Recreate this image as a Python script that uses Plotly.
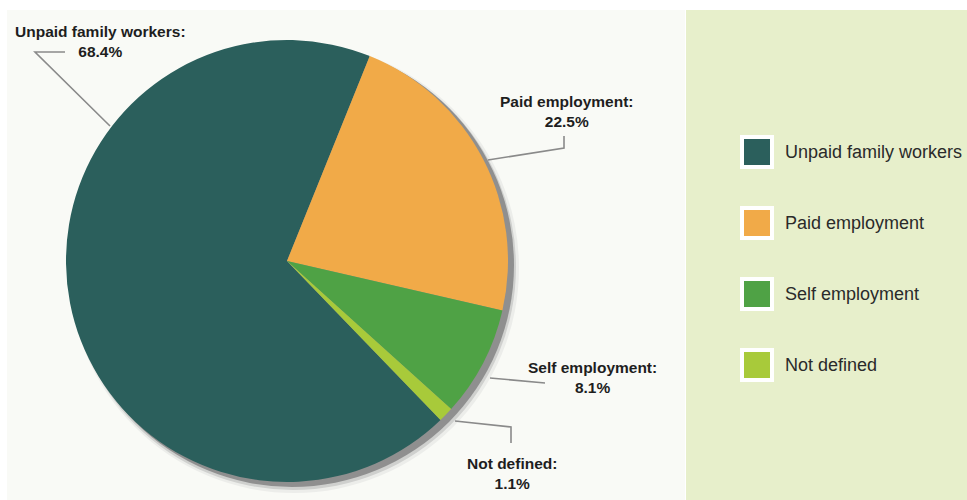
import plotly.graph_objects as go

# ---- data ----
categories = ["Unpaid family workers", "Paid employment", "Self employment", "Not defined"]
shares = [68.4, 22.5, 8.1, 1.1]
colors = ["#2b5f5c", "#f1aa48", "#4fa245", "#a8ca3a"]
value_labels = ["68.4%", "22.5%", "8.1%", "1.1%"]

W, H = 967, 500

def px(x, y):
    return x / W, 1 - y / H

# pie geometry (pixels)
cx, cy, r = 287, 261, 221

fig = go.Figure()

fig.add_trace(go.Pie(
    labels=categories, values=shares, sort=False, direction="clockwise",
    rotation=136, textinfo="none", hoverinfo="label+percent",
    marker=dict(colors=colors, line=dict(width=0)),
    domain=dict(x=[(cx - r) / W, (cx + r) / W], y=[1 - (cy + r) / H, 1 - (cy - r) / H]),
    showlegend=False,
))

# legend drawn as a scatter trace in a pixel-mapped axis
leg_x0, leg_y0, leg_dy = 757, 152, 71
fig.add_trace(go.Scatter(
    x=[0] * len(categories), y=list(range(len(categories))),
    mode="markers", xaxis="x2", yaxis="y2", hoverinfo="skip",
    marker=dict(symbol="square", size=30, color=colors, line=dict(color="white", width=4)),
    showlegend=False,
))

shapes = []
# backgrounds
x0, y0 = px(7, 10); x1, y1 = px(685, 500)
shapes.append(dict(type="rect", xref="paper", yref="paper", x0=x0, y0=y1, x1=x1, y1=y0,
                   fillcolor="#f9faf6", line=dict(width=0), layer="below"))
x0, y0 = px(686, 10); x1, y1 = px(967, 500)
shapes.append(dict(type="rect", xref="paper", yref="paper", x0=x0, y0=y1, x1=x1, y1=y0,
                   fillcolor="#e7efcb", line=dict(width=0), layer="below"))

# pie drop shadow
for (ox, oy, dr, col) in [(7, 7, 4, "#ecedea"), (6, 6, 2, "#cfd0ce"), (5, 4, 1, "#8f8f8f")]:
    a0, b0 = px(cx - r - dr + ox, cy - r - dr + oy)
    a1, b1 = px(cx + r + dr + ox, cy + r + dr + oy)
    shapes.append(dict(type="circle", xref="paper", yref="paper", x0=a0, y0=b1, x1=a1, y1=b0,
                       fillcolor=col, line=dict(width=0), layer="below"))

# leader lines
leaders = [
    [(65, 52), (35, 52), (110, 126)],
    [(564, 136), (564, 148), (488, 160)],
    [(545, 383), (490, 378)],
    [(511, 443), (511, 427), (455, 421)],
]
for pts in leaders:
    path = ""
    for i, (x, y) in enumerate(pts):
        a, b = px(x, y)
        path += ("M" if i == 0 else "L") + f"{a},{b}"
    shapes.append(dict(type="path", xref="paper", yref="paper", path=path,
                       line=dict(color="#8a8a8a", width=1.6)))

annotations = []
label_pos = [(100, 42), (567, 112), (592, 377), (512, 473)]
for cat, val, (x, y) in zip(categories, value_labels, label_pos):
    a, b = px(x, y)
    annotations.append(dict(
        xref="paper", yref="paper", x=a, y=b, xanchor="center", yanchor="middle",
        text=f"<b>{cat}:</b><br><b>{val}</b>", showarrow=False, align="center",
        font=dict(family="Liberation Sans, Arial, sans-serif", size=15.5, color="#1e1e1e"),
    ))

for i, cat in enumerate(categories):
    annotations.append(dict(
        xref="x2", yref="y2", x=26, y=i, xanchor="left", yanchor="middle",
        text=cat, showarrow=False,
        font=dict(family="Liberation Sans, Arial, sans-serif", size=18, color="#2a2a2a"),
    ))

fig.update_layout(
    width=W, height=H, margin=dict(l=0, r=0, t=0, b=0),
    paper_bgcolor="white", plot_bgcolor="rgba(0,0,0,0)",
    xaxis2=dict(domain=[0, 1], range=[-leg_x0, W - leg_x0], visible=False, fixedrange=True),
    yaxis2=dict(domain=[0, 1], anchor="x2",
                range=[(H - leg_y0) / leg_dy, -leg_y0 / leg_dy], visible=False, fixedrange=True),
    shapes=shapes, annotations=annotations,
)

fig.write_html("out.html", config={"displayModeBar": False},
               post_script="document.body.style.margin='0';document.body.style.overflow='hidden';")
